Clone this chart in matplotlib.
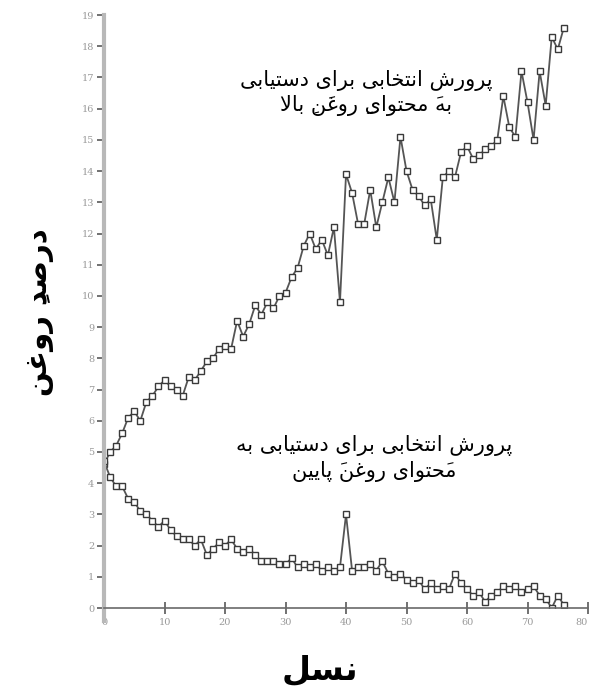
import matplotlib
matplotlib.use("Agg")
import matplotlib.pyplot as plt

# oil content (%) per generation
generations = list(range(77))
high_oil = [4.6, 5.0, 5.2, 5.6, 6.1, 6.3, 6.0, 6.6, 6.8, 7.1,
            7.3, 7.1, 7.0, 6.8, 7.4, 7.3, 7.6, 7.9, 8.0, 8.3,
            8.4, 8.3, 9.2, 8.7, 9.1, 9.7, 9.4, 9.8, 9.6, 10.0,
            10.1, 10.6, 10.9, 11.6, 12.0, 11.5, 11.8, 11.3, 12.2, 9.8,
            13.9, 13.3, 12.3, 12.3, 13.4, 12.2, 13.0, 13.8, 13.0, 15.1,
            14.0, 13.4, 13.2, 12.9, 13.1, 11.8, 13.8, 14.0, 13.8, 14.6,
            14.8, 14.4, 14.5, 14.7, 14.8, 15.0, 16.4, 15.4, 15.1, 17.2,
            16.2, 15.0, 17.2, 16.1, 18.3, 17.9, 18.6]
low_oil = [4.7, 4.2, 3.9, 3.9, 3.5, 3.4, 3.1, 3.0, 2.8, 2.6,
           2.8, 2.5, 2.3, 2.2, 2.2, 2.0, 2.2, 1.7, 1.9, 2.1,
           2.0, 2.2, 1.9, 1.8, 1.9, 1.7, 1.5, 1.5, 1.5, 1.4,
           1.4, 1.6, 1.3, 1.4, 1.3, 1.4, 1.2, 1.3, 1.2, 1.3,
           3.0, 1.2, 1.3, 1.3, 1.4, 1.2, 1.5, 1.1, 1.0, 1.1,
           0.9, 0.8, 0.9, 0.6, 0.8, 0.6, 0.7, 0.6, 1.1, 0.8,
           0.6, 0.4, 0.5, 0.2, 0.4, 0.5, 0.7, 0.6, 0.7, 0.5,
           0.6, 0.7, 0.4, 0.3, 0.0, 0.4, 0.1]
x_ticks = list(range(0, 81, 10))
y_ticks = list(range(0, 20))

label_high = "پرورش انتخابی برای دستیابی\nبهَ محتوایِ روغَنِ بالا"
label_low = "پرورش انتخابی برای دستیابی به\nمَحتوای روغنَ پایین"
label_x = "نسل"
label_y = "درصدِ روغن"

# presentation forms: isolated, final, initial, medial
FORMS = {
    "ا": "\uFE8D\uFE8E", "د": "\uFEA9\uFEAA", "ر": "\uFEAD\uFEAE", "و": "\uFEED\uFEEE",
    "ب": "\uFE8F\uFE90\uFE91\uFE92", "ت": "\uFE95\uFE96\uFE97\uFE98",
    "ح": "\uFEA1\uFEA2\uFEA3\uFEA4", "خ": "\uFEA5\uFEA6\uFEA7\uFEA8",
    "س": "\uFEB1\uFEB2\uFEB3\uFEB4", "ش": "\uFEB5\uFEB6\uFEB7\uFEB8",
    "ص": "\uFEB9\uFEBA\uFEBB\uFEBC", "غ": "\uFECD\uFECE\uFECF\uFED0",
    "ل": "\uFEDD\uFEDE\uFEDF\uFEE0", "م": "\uFEE1\uFEE2\uFEE3\uFEE4",
    "ن": "\uFEE5\uFEE6\uFEE7\uFEE8", "ه": "\uFEE9\uFEEA\uFEEB\uFEEC",
    "پ": "\uFB56\uFB57\uFB58\uFB59", "ی": "\uFBFC\uFBFD\uFBFE\uFBFF",
}
MARKS = "\u064E\u064F\u0650\u0651\u0652"


def shape_line(line):
    # group letters with their diacritics
    clusters = []
    for ch in line:
        if ch in MARKS and clusters:
            clusters[-1][1] += ch
        else:
            clusters.append([ch, ""])
    # lam-alef ligature
    merged = []
    for c in clusters:
        if merged and merged[-1][0] == "ل" and c[0] == "ا":
            merged[-1] = ["LA", merged[-1][1] + c[1]]
        else:
            merged.append(c)
    out = []
    for i, (ch, marks) in enumerate(merged):
        prev = merged[i - 1][0] if i > 0 else " "
        nxt = merged[i + 1][0] if i + 1 < len(merged) else " "
        joins_prev = prev in FORMS and len(FORMS[prev]) == 4
        if ch == "LA":
            glyph = "\uFEFC" if joins_prev else "\uFEFB"
        elif ch in FORMS:
            forms = FORMS[ch]
            joins_next = len(forms) == 4 and (nxt in FORMS or nxt == "LA")
            if joins_prev and joins_next:
                glyph = forms[3]
            elif joins_prev:
                glyph = forms[1]
            elif joins_next:
                glyph = forms[2]
            else:
                glyph = forms[0]
        else:
            glyph = ch
        # marks have no advance, so drawing them first puts them over the letter
        out.append(marks + glyph)
    return "".join(reversed(out))


def shape(text):
    return "\n".join(shape_line(l) for l in text.split("\n"))


fig = plt.figure(figsize=(5.92, 7.0), dpi=100)
ax = fig.add_axes([0.1757, 0.1314, 0.8176, 0.8471])

ax.plot(generations, high_oil, color="#555555", lw=1.3, marker="s", ms=4,
        mfc="white", mec="#3a3a3a", mew=1.0)
ax.plot(generations, low_oil, color="#555555", lw=1.3, marker="s", ms=4,
        mfc="white", mec="#3a3a3a", mew=1.0)

ax.set_xlim(0, 80)
ax.set_ylim(0, 19)
ax.set_xticks(x_ticks)
ax.set_yticks(y_ticks)
for s in ["top", "right"]:
    ax.spines[s].set_visible(False)
ax.spines["left"].set_color("#b8b8b8")
ax.spines["left"].set_linewidth(3)
ax.spines["left"].set_bounds(-0.4, 19)
ax.spines["bottom"].set_color("#6a6a6a")
ax.spines["bottom"].set_linewidth(1.2)
ax.spines["bottom"].set_zorder(3)
ax.tick_params(axis="y", direction="out", length=5, width=1.3, color="#666666",
               labelsize=7, labelcolor="#9a9a9a", pad=2)
ax.tick_params(axis="x", direction="inout", length=8, width=1.3, color="#666666",
               labelsize=7, labelcolor="#9a9a9a", pad=3)
for t in ax.get_xticklabels() + ax.get_yticklabels():
    t.set_family("DejaVu Serif")
ax.get_xticklabels()[-1].set_horizontalalignment("right")

ax.text(43.3, 16.5, shape(label_high), ha="center", va="center", fontsize=15,
        family="DejaVu Sans", linespacing=1.3)
ax.text(44.6, 4.8, shape(label_low), ha="center", va="center", fontsize=15,
        family="DejaVu Sans", linespacing=1.3)

fig.text(40 / 592, 1 - 312 / 700, shape(label_y), rotation=90, ha="center",
         va="center", fontsize=21, fontweight="bold", family="DejaVu Sans")
fig.text(320 / 592, 1 - 670 / 700, shape(label_x), ha="center", va="center",
         fontsize=24, fontweight="bold", family="DejaVu Sans")

fig.savefig("out.png", dpi=100)
